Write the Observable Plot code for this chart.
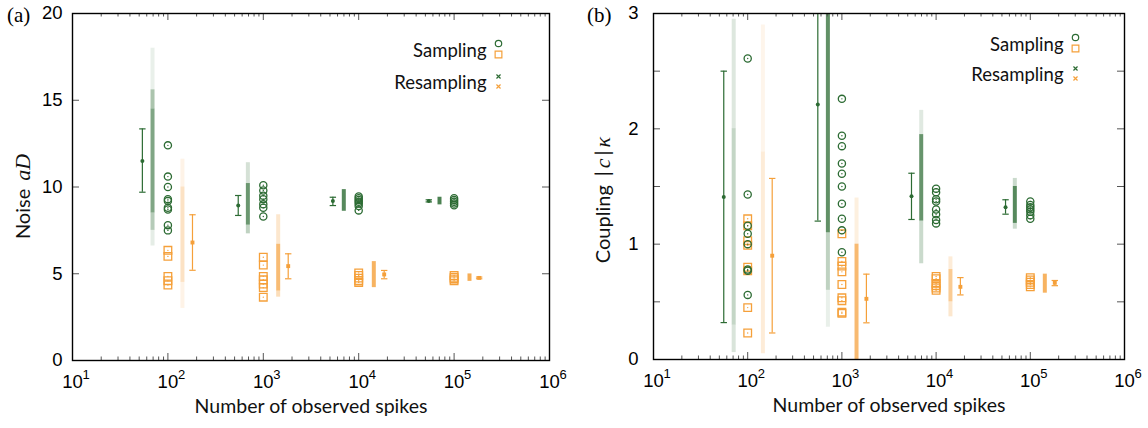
<!DOCTYPE html>
<html><head><meta charset="utf-8">
<script src="https://cdn.jsdelivr.net/npm/d3@7"></script>
<script src="https://cdn.jsdelivr.net/npm/@observablehq/plot@0.6"></script>
<style>
body{margin:0;background:#fff;}
#wrap{display:flex;width:1148px;height:428px;background:#fff;}
</style></head><body><div id="wrap"></div>
<script>
// ---------------- DATA ----------------
const nValues = [100, 1000, 10000, 100000];
const xDecades = [1e1, 1e2, 1e3, 1e4, 1e5, 1e6];
const minorMultipliers = [2, 3, 4, 5, 6, 7, 8, 9];

// Panel (a): Noise aD
const noiseYLabels = [0, 5, 10, 15, 20];
const noiseYTicks = [0, 5, 10, 15, 20];
const noiseSampGreen = [
  [12.4, 10.6, 10.0, 9.3, 9.2, 8.8, 8.7, 7.8, 7.5],
  [10.1, 9.8, 9.5, 9.3, 9.0, 8.8, 8.3],
  [9.45, 9.35, 9.25, 9.15, 9.05, 8.9, 8.65],
  [9.35, 9.25, 9.15, 9.05, 8.95]
];
const noiseSampOrange = [
  [6.35, 6.0, 4.85, 4.6, 4.35],
  [5.95, 5.5, 4.85, 4.65, 4.4, 4.2, 3.65],
  [5.05, 4.9, 4.75, 4.6, 4.5],
  [4.9, 4.8, 4.7, 4.6]
];
const noiseErrGreenX = [54, 546, 5360, 54300];
const noiseErrGreenMid = [11.5, 8.93, 9.2, 9.2];
const noiseErrGreenLo = [9.7, 8.36, 8.93, 9.14];
const noiseErrGreenHi = [13.35, 9.51, 9.41, 9.26];
const noiseErrOrangeX = [181, 1824, 18500, 183000];
const noiseErrOrangeMid = [6.8, 5.44, 4.96, 4.76];
const noiseErrOrangeLo = [5.2, 4.71, 4.71, 4.71];
const noiseErrOrangeHi = [8.4, 6.15, 5.19, 4.81];
// resampling strips: [low, high, density]
const noiseStripGreenX = [69, 689, 6980, 70300];
const noiseStripGreenBands = [
  [[6.6, 7.5, 0.12], [7.5, 8.5, 0.35], [8.5, 14.5, 0.6], [14.5, 15.6, 0.4], [15.6, 18.0, 0.1]],
  [[7.3, 7.8, 0.3], [7.8, 10.2, 0.7], [10.2, 11.4, 0.2]],
  [[8.6, 9.85, 0.8]],
  [[8.97, 9.41, 0.85]]
];
const noiseStripOrangeX = [142, 1432, 14400, 145000];
const noiseStripOrangeBands = [
  [[3.0, 4.5, 0.12], [4.5, 10.0, 0.3], [10.0, 11.6, 0.12]],
  [[3.65, 4.0, 0.35], [4.0, 6.7, 0.7], [6.7, 8.4, 0.25]],
  [[4.2, 5.7, 0.8]],
  [[4.56, 4.99, 0.85]]
];

// Panel (b): Coupling |c|kappa
const coupYLabels = [0, 1, 2, 3];
const coupYTicks = [0, 0.5, 1, 1.5, 2, 2.5, 3];
const coupSampGreen = [
  [2.61, 1.43, 1.16, 1.09, 1.0, 0.78, 0.77, 0.56],
  [2.26, 1.94, 1.85, 1.70, 1.61, 1.50, 1.35, 1.22, 1.12, 0.93],
  [1.48, 1.45, 1.39, 1.37, 1.30, 1.26, 1.21, 1.18],
  [1.37, 1.34, 1.32, 1.30, 1.28, 1.25, 1.22]
];
const coupSampOrange = [
  [1.22, 1.16, 1.03, 0.99, 0.80, 0.77, 0.45, 0.23],
  [1.09, 0.85, 0.81, 0.76, 0.65, 0.535, 0.51, 0.41, 0.40],
  [0.72, 0.70, 0.66, 0.64, 0.62, 0.60],
  [0.71, 0.69, 0.67, 0.65, 0.63]
];
const coupErrGreenX = [55.7, 555, 5480, 54600];
const coupErrGreenMid = [1.41, 2.21, 1.416, 1.32];
const coupErrGreenLo = [0.32, 1.20, 1.214, 1.26];
const coupErrGreenHi = [2.50, 3.22, 1.615, 1.385];
const coupErrOrangeX = [182, 1820, 18100, 182000];
const coupErrOrangeMid = [0.90, 0.526, 0.63, 0.665];
const coupErrOrangeLo = [0.23, 0.318, 0.56, 0.64];
const coupErrOrangeHi = [1.57, 0.74, 0.71, 0.685];
const coupStripGreenX = [71, 710, 6950, 68500];
const coupStripGreenBands = [
  [[0.06, 0.3, 0.18], [0.3, 2.0, 0.28], [2.0, 2.95, 0.16]],
  [[0.28, 0.6, 0.1], [0.6, 1.1, 0.3], [1.1, 3.1, 0.75]],
  [[0.83, 1.2, 0.25], [1.2, 1.95, 0.72], [1.95, 2.16, 0.15]],
  [[1.13, 1.18, 0.25], [1.18, 1.5, 0.8], [1.5, 1.57, 0.25]]
];
const coupStripOrangeX = [145, 1430, 14200, 142600];
const coupStripOrangeBands = [
  [[0.05, 1.8, 0.2], [1.8, 2.9, 0.1]],
  [[0.0, 1.0, 0.72], [1.0, 1.4, 0.16]],
  [[0.37, 0.5, 0.25], [0.5, 0.78, 0.55], [0.78, 0.89, 0.2]],
  [[0.575, 0.74, 0.8]]
];

// ---------------- STYLE ----------------
const green = "#2c6b33";
const orange = "#f5a03a";
const tickFont = "'Liberation Sans', Arial, sans-serif";
const textFont = "Lato, 'Open Sans', sans-serif";
const serifFont = "'Liberation Serif', 'Times New Roman', serif";
const capSymbol = {draw(ctx, size) { const w = Math.sqrt(size / Math.PI); ctx.moveTo(-w, 0); ctx.lineTo(w, 0); }};

function flatSamp(arrs) { const out = []; nValues.forEach((n, i) => arrs[i].forEach(v => out.push({n, v}))); return out; }
function errs(x, mid, lo, hi) { return x.map((xx, i) => ({x: xx, mid: mid[i], lo: lo[i], hi: hi[i]})); }
function strips(x, bands) { const out = []; x.forEach((xx, i) => bands[i].forEach(b => out.push({x: xx, lo: b[0], hi: b[1], d: b[2]}))); return out; }

function panel(o) {
  const W = o.width - o.ml - o.mr, H = o.height - o.mt - o.mb;
  const minor = [];
  xDecades.slice(0, -1).forEach(d => minorMultipliers.forEach(m => minor.push(d * m)));
  const sg = flatSamp(o.sampG), so = flatSamp(o.sampO);
  const eg = errs(...o.errG), eo = errs(...o.errO);
  const stg = strips(...o.stripG), sto = strips(...o.stripO);
  const chart = Plot.plot({
    width: o.width, height: o.height,
    marginLeft: o.ml, marginRight: o.mr, marginTop: o.mt, marginBottom: o.mb,
    x: {type: "log", domain: [10, 1e6], axis: null},
    y: {domain: o.ydomain, axis: null},
    opacity: {type: "identity"},
    style: {fontFamily: tickFont, fontSize: "18px", background: "white", color: "black", overflow: "visible"},
    marks: [
      // strips (resampling)
      Plot.ruleX(stg, {x: "x", y1: "lo", y2: "hi", stroke: green, strokeWidth: 4, strokeOpacity: "d", clip: true}),
      Plot.ruleX(sto, {x: "x", y1: "lo", y2: "hi", stroke: orange, strokeWidth: 4, strokeOpacity: "d", clip: true}),
      // error bars
      Plot.ruleX(eg, {x: "x", y1: "lo", y2: "hi", stroke: green, strokeWidth: 1.2, clip: true}),
      Plot.dot(eg, {x: "x", y: "lo", symbol: capSymbol, r: 3.2, stroke: green, fill: "none", strokeWidth: 1.2, clip: true}),
      Plot.dot(eg, {x: "x", y: "hi", symbol: capSymbol, r: 3.2, stroke: green, fill: "none", strokeWidth: 1.2, clip: true}),
      Plot.dot(eg, {x: "x", y: "mid", r: 2, fill: green, stroke: "none"}),
      Plot.ruleX(eo, {x: "x", y1: "lo", y2: "hi", stroke: orange, strokeWidth: 1.2, clip: true}),
      Plot.dot(eo, {x: "x", y: "lo", symbol: capSymbol, r: 3.2, stroke: orange, fill: "none", strokeWidth: 1.2}),
      Plot.dot(eo, {x: "x", y: "hi", symbol: capSymbol, r: 3.2, stroke: orange, fill: "none", strokeWidth: 1.2}),
      Plot.dot(eo, {x: "x", y: "mid", symbol: "square", r: 2.2, fill: orange, stroke: "none"}),
      // sampling
      Plot.dot(so, {x: "n", y: "v", symbol: "square", r: 4.3, stroke: orange, fill: "none", strokeWidth: 1.3}),
      Plot.dot(so, {x: "n", y: "v", r: 0.7, fill: orange, stroke: "none"}),
      Plot.dot(sg, {x: "n", y: "v", r: 3.6, stroke: green, fill: "none", strokeWidth: 1.3}),
      Plot.dot(sg, {x: "n", y: "v", r: 0.7, fill: green, stroke: "none"}),
      // ticks
      Plot.tickY(o.yticks, {y: d => d, insetRight: W - 7, stroke: "#555"}),
      Plot.tickY(o.yticks, {y: d => d, insetLeft: W - 7, stroke: "#555"}),
      Plot.tickX(xDecades, {x: d => d, insetTop: H - 7, stroke: "#555"}),
      Plot.tickX(xDecades, {x: d => d, insetBottom: H - 7, stroke: "#555"}),
      Plot.tickX(minor, {x: d => d, insetTop: H - 3.5, stroke: "#555"}),
      Plot.tickX(minor, {x: d => d, insetBottom: H - 3.5, stroke: "#555"}),
      Plot.frame({stroke: "black", strokeWidth: 1.4}),
      // tick labels
      Plot.text(o.ylabels, {y: d => d, text: d => String(d), frameAnchor: "left", textAnchor: "end", dx: -o.ypad, fontSize: 18.5, fontFamily: tickFont, fill: "black"}),
      Plot.text(xDecades, {x: d => d, text: () => "10", frameAnchor: "bottom", dy: 27, fontSize: 18.5, fontFamily: tickFont, fill: "black"}),
      Plot.text(xDecades, {x: d => d, text: d => String(Math.round(Math.log10(d))), frameAnchor: "bottom", textAnchor: "start", dx: 10, dy: 18, fontSize: 13, fontFamily: tickFont, fill: "black"}),
      Plot.text(["Number of observed spikes"], {text: d => d, frameAnchor: "bottom", dy: 52, fontSize: 19.5, fontFamily: textFont, fill: "#111"}),
      // legend
      Plot.text(["Sampling"], {text: d => d, frameAnchor: "top-right", textAnchor: "end", dx: o.leg.tdx, dy: o.leg.sy - 5, fontSize: 18.5, fontFamily: textFont, fill: "#111"}),
      Plot.text(["Resampling"], {text: d => d, frameAnchor: "top-right", textAnchor: "end", dx: o.leg.tdx, dy: o.leg.ry - 5, fontSize: 18.5, fontFamily: textFont, fill: "#111"}),
      Plot.dot(["Sampling"], {frameAnchor: "top-right", dx: o.leg.sdx, dy: o.leg.sy - 5, r: 3.2, stroke: green, fill: "none", strokeWidth: 1.2}),
      Plot.dot(["Sampling"], {frameAnchor: "top-right", dx: o.leg.sdx, dy: o.leg.sy + 6, symbol: "square", r: 3.8, stroke: orange, fill: "none", strokeWidth: 1.2}),
      Plot.dot(["Resampling"], {frameAnchor: "top-right", dx: o.leg.sdx, dy: o.leg.ry - 4, symbol: "times", r: 2, stroke: green, strokeWidth: 1.2}),
      Plot.dot(["Resampling"], {frameAnchor: "top-right", dx: o.leg.sdx, dy: o.leg.ry + 6, symbol: "times", r: 2, stroke: orange, strokeWidth: 1.2})
    ]
  });
  const svg = d3.select(chart);
  // y axis title
  const t = svg.append("text")
    .attr("transform", `translate(${o.ylabX},${o.mt + H / 2 + o.ylabShift}) rotate(-90)`)
    .attr("text-anchor", "middle").attr("dominant-baseline", "middle")
    .attr("font-size", 20).attr("font-family", textFont).attr("fill", "#111");
  o.ytitle.forEach(p => {
    const s = t.append("tspan").text(p.t);
    if (p.dx) s.attr("dx", p.dx);
    if (p.i) s.attr("font-style", "italic").attr("font-family", serifFont).attr("font-size", 22);
  });
  // panel label
  svg.append("text").attr("x", o.plx).attr("y", 22).attr("text-anchor", "start")
    .attr("font-family", serifFont).attr("font-size", 21).attr("fill", "black").text(o.panelLabel);
  return chart;
}

const wrap = document.getElementById("wrap");
wrap.appendChild(panel({
  width: 574, height: 428, ml: 72, mr: 25, mt: 13, mb: 68, ydomain: [0, 20],
  yticks: noiseYTicks, ylabels: noiseYLabels, ypad: 10,
  sampG: noiseSampGreen, sampO: noiseSampOrange,
  errG: [noiseErrGreenX, noiseErrGreenMid, noiseErrGreenLo, noiseErrGreenHi],
  errO: [noiseErrOrangeX, noiseErrOrangeMid, noiseErrOrangeLo, noiseErrOrangeHi],
  stripG: [noiseStripGreenX, noiseStripGreenBands],
  stripO: [noiseStripOrangeX, noiseStripOrangeBands],
  leg: {tdx: -63, sdx: -51, sy: 35, ry: 67},
  ytitle: [{t: "Noise"}, {t: "aD", i: true, dx: 8}], ylabX: 25, ylabShift: 10,
  panelLabel: "(a)", plx: 7
}));
wrap.appendChild(panel({
  width: 574, height: 428, ml: 79, mr: 24, mt: 13, mb: 69, ydomain: [0, 3],
  yticks: coupYTicks, ylabels: coupYLabels, ypad: 15,
  sampG: coupSampGreen, sampO: coupSampOrange,
  errG: [coupErrGreenX, coupErrGreenMid, coupErrGreenLo, coupErrGreenHi],
  errO: [coupErrOrangeX, coupErrOrangeMid, coupErrOrangeLo, coupErrOrangeHi],
  stripG: [coupStripGreenX, coupStripGreenBands],
  stripO: [coupStripOrangeX, coupStripOrangeBands],
  leg: {tdx: -61, sdx: -49, sy: 29, ry: 59},
  ytitle: [{t: "Coupling"}, {t: "|", dx: 9}, {t: "c", i: true, dx: 3}, {t: "|", dx: 3}, {t: "κ", i: true, dx: 3}], ylabX: 31, ylabShift: 14,
  panelLabel: "(b)", plx: 13
}));
</script></body></html>
